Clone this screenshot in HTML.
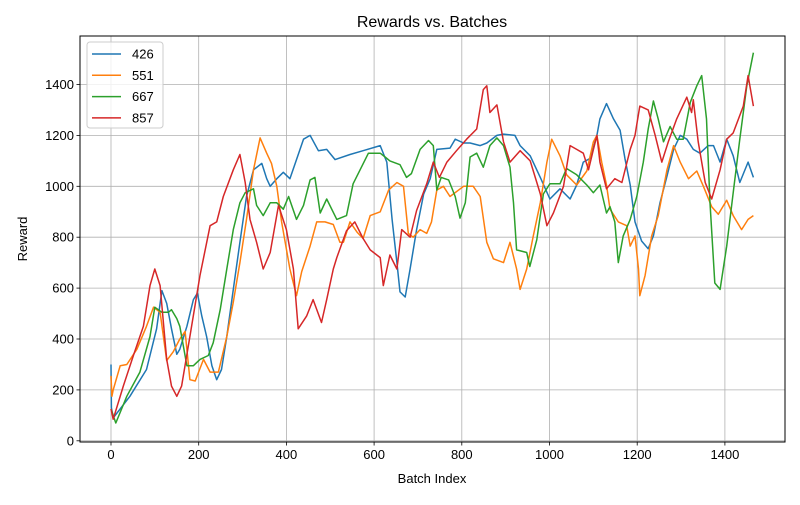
<!DOCTYPE html>
<html><head><meta charset="utf-8"><style>
body{margin:0;background:#fff;}
svg text{font-family:"Liberation Sans","DejaVu Sans",sans-serif;fill:#000;}
</style></head><body>
<svg id="chart" width="800" height="500" viewBox="0 0 800 500" xmlns="http://www.w3.org/2000/svg">
<rect width="800" height="500" fill="#fff"/>
<text x="432" y="27" font-size="16" text-anchor="middle">Rewards vs. Batches</text>
<text x="432" y="483" font-size="13" text-anchor="middle">Batch Index</text>
<text x="27" y="239" font-size="13" text-anchor="middle" transform="rotate(-90 27 239)">Reward</text>
<g id="grid"></g>
<g id="series"></g>
<rect x="80" y="36" width="705" height="406" fill="none" stroke="#000" stroke-width="1"/>
<g id="ticks"></g>
<g id="legend"></g>
</svg>
<script>
const xTicks = [0,200,400,600,800,1000,1200,1400];
const yTicks = [0,200,400,600,800,1000,1200,1400];
const seriesNames = ["426","551","667","857"];
const seriesColors = ["#1f77b4","#ff7f0e","#2ca02c","#d62728"];
const data426 = [[0,300],[1,130],[5,90],[43,175],[81,280],[104,440],[116,590],[127,540],[138,440],[150,340],[157,360],[173,450],[188,555],[197,580],[207,490],[218,410],[230,295],[241,240],[252,280],[264,410],[279,595],[294,780],[309,960],[325,1065],[344,1090],[355,1030],[363,1000],[378,1030],[393,1055],[408,1030],[423,1105],[439,1185],[454,1200],[473,1140],[492,1145],[511,1105],[545,1125],[575,1140],[614,1160],[629,1095],[641,870],[652,700],[659,585],[671,565],[682,675],[697,830],[713,970],[728,1030],[743,1145],[773,1150],[785,1185],[804,1170],[819,1170],[842,1160],[857,1170],[880,1200],[895,1205],[921,1200],[933,1160],[956,1120],[979,1035],[1001,950],[1024,990],[1047,950],[1062,1005],[1077,1095],[1093,1110],[1108,1200],[1115,1265],[1130,1325],[1146,1265],[1161,1220],[1172,1110],[1184,1005],[1195,860],[1210,785],[1225,755],[1237,805],[1252,935],[1268,1040],[1283,1145],[1298,1200],[1313,1185],[1328,1145],[1343,1130],[1362,1160],[1374,1160],[1389,1095],[1404,1185],[1419,1120],[1434,1015],[1453,1095],[1465,1035]];
const data551 = [[0,255],[2,175],[5,200],[21,295],[36,300],[59,360],[81,450],[97,525],[112,505],[127,315],[142,350],[157,400],[169,430],[180,240],[192,235],[211,320],[226,270],[245,270],[264,410],[279,545],[294,700],[309,870],[325,1065],[340,1190],[355,1130],[366,1090],[378,1000],[389,860],[408,675],[423,570],[435,665],[454,765],[469,860],[488,860],[507,850],[522,780],[530,780],[545,860],[561,820],[575,795],[591,885],[614,900],[633,985],[652,1015],[667,1000],[678,815],[689,800],[705,830],[720,815],[731,860],[743,985],[758,1000],[773,960],[804,1000],[826,1000],[842,960],[857,780],[872,715],[895,700],[910,780],[925,675],[933,595],[948,675],[963,805],[979,935],[994,1095],[1005,1185],[1024,1120],[1039,1045],[1062,1005],[1085,1060],[1100,1175],[1108,1200],[1119,1095],[1130,1005],[1138,910],[1157,860],[1176,845],[1184,765],[1195,805],[1203,675],[1206,570],[1218,650],[1233,805],[1248,885],[1268,1065],[1283,1160],[1298,1095],[1317,1030],[1336,1060],[1351,1000],[1370,920],[1385,890],[1404,945],[1419,885],[1438,830],[1453,870],[1465,885]];
const data667 = [[0,125],[11,70],[36,175],[66,270],[89,410],[100,525],[116,505],[131,505],[138,515],[150,480],[157,450],[173,295],[188,295],[203,320],[222,335],[233,385],[249,515],[264,675],[279,830],[294,935],[306,975],[325,990],[332,925],[347,885],[363,935],[378,935],[393,910],[405,960],[423,870],[439,925],[454,1025],[465,1035],[477,895],[492,950],[515,870],[537,885],[552,1010],[568,1065],[587,1130],[614,1130],[625,1115],[636,1100],[659,1085],[674,1035],[685,1050],[705,1145],[724,1180],[735,1160],[743,985],[753,1035],[770,1025],[785,960],[796,875],[808,935],[819,1115],[834,1130],[849,1075],[864,1160],[880,1190],[895,1160],[910,1075],[918,935],[925,750],[948,740],[955,685],[971,790],[986,970],[1001,1010],[1024,1010],[1039,1070],[1062,1045],[1085,1005],[1100,975],[1115,1005],[1130,895],[1138,920],[1149,860],[1157,700],[1168,805],[1184,870],[1199,960],[1214,1095],[1225,1225],[1237,1335],[1248,1265],[1260,1175],[1275,1235],[1290,1185],[1305,1185],[1321,1330],[1336,1395],[1347,1435],[1358,1265],[1366,935],[1377,620],[1389,595],[1404,765],[1419,975],[1434,1185],[1450,1395],[1465,1525]];
const data857 = [[0,125],[5,85],[28,215],[51,335],[74,450],[89,610],[100,675],[112,610],[127,320],[138,215],[150,175],[161,215],[180,410],[203,650],[226,845],[241,860],[256,960],[279,1065],[294,1125],[306,1015],[317,870],[332,780],[347,675],[363,740],[382,925],[400,830],[416,675],[427,440],[446,490],[461,555],[480,465],[492,555],[507,675],[515,720],[537,825],[556,860],[575,795],[591,750],[614,720],[621,610],[636,730],[652,675],[663,830],[682,800],[697,905],[720,1010],[735,1095],[749,1035],[766,1095],[788,1140],[811,1185],[834,1225],[849,1380],[857,1395],[864,1290],[880,1320],[895,1175],[910,1095],[933,1140],[956,1100],[979,970],[994,845],[1009,895],[1032,1000],[1047,1160],[1062,1145],[1077,1130],[1089,1065],[1100,1145],[1108,1200],[1115,1095],[1130,990],[1149,1030],[1165,1015],[1184,1145],[1195,1200],[1206,1315],[1225,1300],[1241,1200],[1256,1095],[1271,1175],[1290,1265],[1313,1350],[1324,1290],[1328,1340],[1339,1175],[1355,1015],[1370,950],[1389,1065],[1404,1185],[1419,1210],[1442,1315],[1453,1435],[1465,1315]];
const allSeries = [data426,data551,data667,data857];

const NS="http://www.w3.org/2000/svg";
const L=80,R=785,T=36,B=442;
const xs = v => 111 + v*0.4385;
const ys = v => 440.8 - v*0.2545;
function mk(tag, attrs){const e=document.createElementNS(NS,tag);for(const k in attrs)e.setAttribute(k,attrs[k]);return e;}
const grid=document.getElementById('grid'), ticks=document.getElementById('ticks'), ser=document.getElementById('series'), leg=document.getElementById('legend');
xTicks.forEach(t=>{
  const x=xs(t);
  const g=mk('line',{x1:x,x2:x,y1:T,y2:B,stroke:'#b0b0b0','stroke-width':0.8});
  
  
  grid.appendChild(g);
  const tk=mk('line',{x1:x,x2:x,y1:B,y2:B+3.5,stroke:'#000','stroke-width':0.8});
  
  
  ticks.appendChild(tk);
  const tx=mk('text',{x:x,y:B+17,'font-size':13,'text-anchor':'middle'});
  tx.textContent=t;
  
  
  ticks.appendChild(tx);
});
yTicks.forEach(t=>{
  const y=ys(t);
  const g=mk('line',{x1:L,x2:R,y1:y,y2:y,stroke:'#b0b0b0','stroke-width':0.8});
  
  
  grid.appendChild(g);
  const tk=mk('line',{x1:L-3.5,x2:L,y1:y,y2:y,stroke:'#000','stroke-width':0.8});
  
  
  ticks.appendChild(tk);
  const tx=mk('text',{x:L-6,y:y+4.5,'font-size':13,'text-anchor':'end'});
  tx.textContent=t;
  
  
  ticks.appendChild(tx);
});
allSeries.forEach((d,i)=>{
  const p=mk('polyline',{points:d.map(q=>xs(q[0]).toFixed(1)+','+ys(q[1]).toFixed(1)).join(' '),fill:'none',stroke:seriesColors[i],'stroke-width':1.5,'stroke-linejoin':'round'});
  
  
  ser.appendChild(p);
});
const box=mk('rect',{x:87,y:42,width:76,height:86,rx:3,fill:'#fff','fill-opacity':0.8,stroke:'#ccc','stroke-width':1});


leg.appendChild(box);
seriesNames.forEach((n,i)=>{
  const y=54+i*21.3;
  const ln=mk('line',{x1:92,x2:121,y1:y,y2:y,stroke:seriesColors[i],'stroke-width':1.5});
  
  
  leg.appendChild(ln);
  const tx=mk('text',{x:132,y:y+4.5,'font-size':13});
  tx.textContent=n;
  
  
  leg.appendChild(tx);
});
</script>
</body></html>
